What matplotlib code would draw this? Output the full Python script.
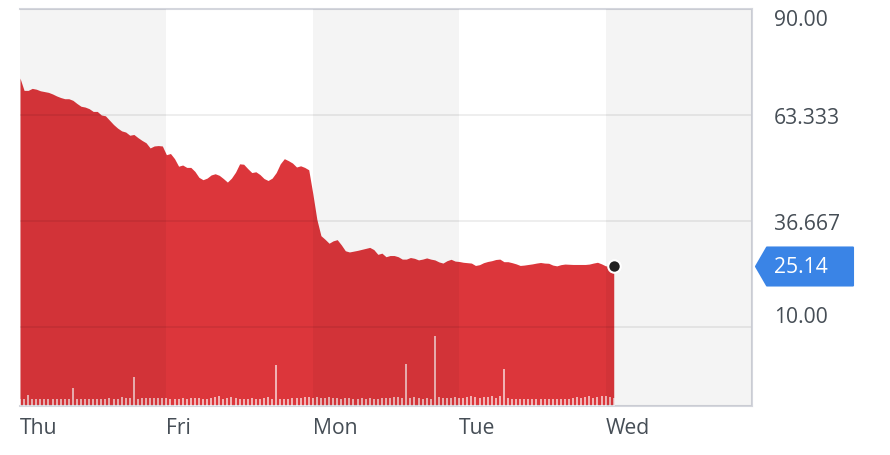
import numpy as np
import matplotlib
matplotlib.use("Agg")
import matplotlib.pyplot as plt
from matplotlib.patches import Polygon
from matplotlib.transforms import IdentityTransform, blended_transform_factory

# ---------------- data ----------------
days = ["Thu", "Fri", "Mon", "Tue", "Wed"]
points_per_day = 36

price = [
    72.6, 69.5, 69.5, 70.0, 69.8, 69.4, 69.2, 69.0, 68.6, 68.1,
    67.7, 67.4, 67.4, 67.0, 66.2, 65.5, 65.3, 64.9, 64.2, 64.2,
    63.3, 63.1, 62.0, 60.9, 60.0, 59.3, 59.0, 58.2, 58.4, 57.6,
    56.9, 56.3, 55.0, 55.5, 55.6, 55.5, 53.3, 53.6, 52.3, 50.4,
    50.7, 50.1, 50.1, 49.1, 47.6, 47.0, 47.4, 48.2, 48.5, 48.1,
    47.3, 46.4, 47.4, 48.9, 51.0, 50.9, 49.8, 48.8, 49.0, 48.3,
    47.3, 46.8, 47.4, 48.8, 51.0, 52.3, 51.8, 51.2, 50.2, 50.5,
    50.1, 49.5, 43.5, 37.0, 32.9, 32.0, 31.0, 31.6, 31.9, 30.6,
    29.1, 28.8, 29.0, 29.2, 29.45, 29.7, 29.95, 29.4, 28.2, 28.5,
    27.6, 27.9, 27.9, 27.6, 27.0, 27.0, 27.4, 27.2, 26.8, 27.0,
    27.3, 27.0, 26.8, 26.3, 26.0, 26.6, 26.95, 26.5, 26.4, 26.2,
    26.1, 26.0, 25.4, 25.6, 26.1, 26.4, 26.6, 26.9, 27.0, 26.35,
    26.35, 26.1, 25.8, 25.4, 25.5, 25.65, 25.8, 26.0, 26.15, 26.0,
    25.95, 25.5, 25.3, 25.6, 25.75, 25.7, 25.65, 25.65, 25.65, 25.65,
    25.75, 26.0, 26.2, 25.8, 25.3, 25.2, 25.14,
]

volume = [
    # Thu
    30, 30, 45, 32, 30, 30, 30, 30, 30, 30, 30, 30, 30, 75, 30, 30, 30, 30,
    30, 30, 32, 30, 34, 32, 30, 38, 36, 34, 125, 30, 34, 36, 34, 34, 34, 36,
    # Fri
    34, 30, 30, 32, 34, 32, 34, 36, 34, 32, 30, 36, 40, 42, 32, 34, 38, 36,
    32, 30, 32, 34, 32, 30, 34, 38, 30, 175, 30, 32, 32, 34, 36, 34, 40, 38,
    # Mon
    36, 38, 36, 36, 40, 36, 34, 32, 36, 34, 32, 32, 34, 32, 34, 32, 30, 34,
    34, 36, 40, 38, 36, 180, 34, 38, 36, 32, 34, 30, 300, 38, 36, 34, 36, 38,
    # Tue
    34, 36, 40, 44, 40, 34, 38, 38, 42, 36, 44, 160, 34, 32, 30, 30, 30, 30,
    30, 30, 32, 30, 30, 30, 32, 32, 30, 30, 34, 38, 36, 38, 42, 36, 40, 44,
    # Wed
    42, 38, 34,
]

last_price = 25.14
y_ticks = [10.0, 36.667, 63.333, 90.0]
y_tick_labels = ["10.00", "36.667", "63.333", "90.00"]

# ---------------- style ----------------
RED = "#dc363b"
TEXT = "#464e56"
BORDER = "#d4d6dd"
BLUE = "#3a84e6"
FONT = ["Open Sans", "DejaVu Sans"]
FS = 15.2

plt.rcParams["font.family"] = FONT

W, H = 890, 456
fig = plt.figure(figsize=(W / 100, H / 100), dpi=100)
ax_l, ax_r, ax_t, ax_b = 20, 752, 10, 407
ax = fig.add_axes([ax_l / W, 1 - ax_b / H, (ax_r - ax_l) / W, (ax_b - ax_t) / H])
ax2 = ax.twinx()

x = np.arange(len(price)) / points_per_day
y_min, y_max = -10, 90
ax.set_xlim(0, len(days))
ax.set_ylim(y_min, y_max)

# area
ax.fill_between(x, price, y_min, color=RED, linewidth=0, zorder=1)

# grid lines
ax.set_yticks(y_ticks)
ax.grid(axis="y", color="black", alpha=0.065, linewidth=1.4)
ax.grid(axis="x", visible=False)

# spines
for s in ["top", "right", "bottom"]:
    ax.spines[s].set_color(BORDER)
    ax.spines[s].set_linewidth(1.5)
ax.spines["left"].set_visible(False)

# y tick labels on the right
ax.yaxis.tick_right()
ax.yaxis.set_label_position("right")
ax.set_yticklabels(y_tick_labels)
ax.tick_params(axis="y", which="both", left=False, right=False,
               labelleft=False, labelright=True,
               length=0, pad=15.8, labelsize=FS, labelcolor=TEXT)
labels = ax.get_yticklabels()
for lab in labels:
    lab.set_horizontalalignment("left")
labels[0].set_verticalalignment("bottom")
labels[-1].set_verticalalignment("top")

# x tick labels
ax.set_xticks(range(len(days)))
ax.set_xticklabels(days, ha="left")
ax.tick_params(axis="x", length=0, pad=8, labelsize=FS, labelcolor=TEXT)

# volume on the twin axis
ax2.set_ylim(0, 1700)
ax2.set_xlim(0, len(days))
ax2.bar(x, volume, width=0.5 / points_per_day, color="white", alpha=0.62,
        linewidth=0, zorder=2)
for s in ax2.spines.values():
    s.set_visible(False)
ax2.set_yticks([])
ax2.tick_params(axis="y", left=False, right=False, labelleft=False, labelright=False)

# day bands (overlay)
for i in range(0, len(days), 2):
    ax2.axvspan(i, i + 1, color="black", alpha=0.045, linewidth=0, zorder=5)

# last-price dot
ax2.plot([x[-1]], [price[-1]], marker="o", markersize=9, color="#222222",
         markeredgecolor="white", markeredgewidth=1.5, transform=ax.transData,
         zorder=8, clip_on=False)

# price tag
fig.canvas.draw()
ty = ax.transData.transform((0, last_price))[1]
rx = ax.transAxes.transform((1, 0))[0]
tip = rx + 4
hh = 19
verts = [(tip, ty), (tip + 11, ty + hh), (rx + 101, ty + hh),
         (rx + 101, ty - hh), (tip + 11, ty - hh)]
tag = Polygon(verts, closed=True, facecolor=BLUE, edgecolor=BLUE,
              linewidth=1.5, joinstyle="round", transform=IdentityTransform(),
              clip_on=False, zorder=10)
ax2.add_artist(tag)
trans = blended_transform_factory(ax.transAxes, ax.transData)
ax2.text(1 + 22 / (ax_r - ax_l), last_price, f"{last_price:.2f}", transform=trans,
         ha="left", va="center", color="white", fontsize=FS, zorder=11,
         clip_on=False)

fig.savefig("out.png", dpi=100)
